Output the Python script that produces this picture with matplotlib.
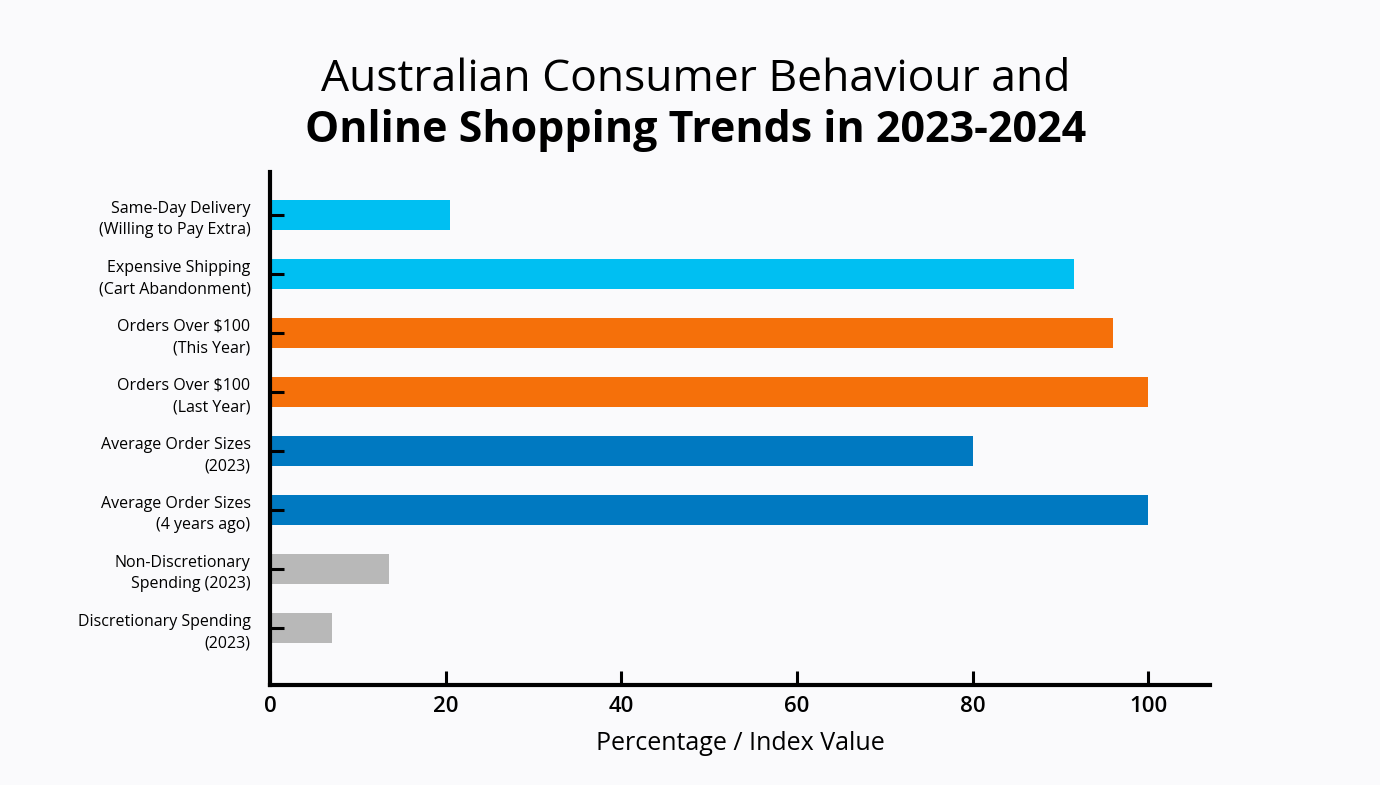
import matplotlib.pyplot as plt

# Categories (top to bottom as shown) and values
labels = [
    'Same-Day Delivery\n(Willing to Pay Extra)',
    'Expensive Shipping\n(Cart Abandonment)',
    'Orders Over $100\n(This Year)',
    'Orders Over $100\n(Last Year)',
    'Average Order Sizes\n(2023)',
    'Average Order Sizes\n(4 years ago)',
    'Non-Discretionary\nSpending (2023)',
    'Discretionary Spending\n(2023)',
]
values = [20.5, 91.5, 96, 100, 80, 100, 13.5, 7]
colors = ['#00BFF2', '#00BFF2', '#F5700A', '#F5700A',
          '#0079C1', '#0079C1', '#B8B8B8', '#B8B8B8']
xticks = [0, 20, 40, 60, 80, 100]

plt.rcParams['font.family'] = ['Open Sans', 'DejaVu Sans']
bg = '#fafafc'

fig = plt.figure(figsize=(13.8, 7.85), dpi=100, facecolor=bg)
ax = fig.add_axes([0.1957, 0.1274, 0.6811, 0.6535])
ax.set_facecolor(bg)

# reverse so the first category is at the top
ypos = list(range(len(labels)))[::-1]
ax.barh(ypos, values, height=0.5, color=colors, zorder=2)
ax.set_axisbelow(False)

ax.set_yticks(ypos)
ax.set_yticklabels(labels, fontsize=11.5, ha='right', multialignment='right',
                   linespacing=1.45)
ax.set_xticks(xticks)
ax.set_xticklabels([str(t) for t in xticks], fontsize=16, fontweight='semibold')
ax.set_xlim(0, 107)
ax.set_ylim(-0.97, 7.73)

for s in ['top', 'right']:
    ax.spines[s].set_visible(False)
for s in ['left', 'bottom']:
    ax.spines[s].set_linewidth(3)
ax.tick_params(axis='both', direction='in', length=10, width=2.2, colors='black')
ax.tick_params(axis='y', pad=14)
ax.tick_params(axis='x', pad=8)

ax.set_xlabel('Percentage / Index Value', fontsize=18, labelpad=10)

fig.text(0.504, 0.898, 'Australian Consumer Behaviour and', ha='center', va='center',
         fontsize=32)
fig.text(0.504, 0.834, 'Online Shopping Trends in 2023-2024', ha='center', va='center',
         fontsize=31, fontweight='bold')

fig.savefig('out.png', dpi=100, facecolor=bg)
